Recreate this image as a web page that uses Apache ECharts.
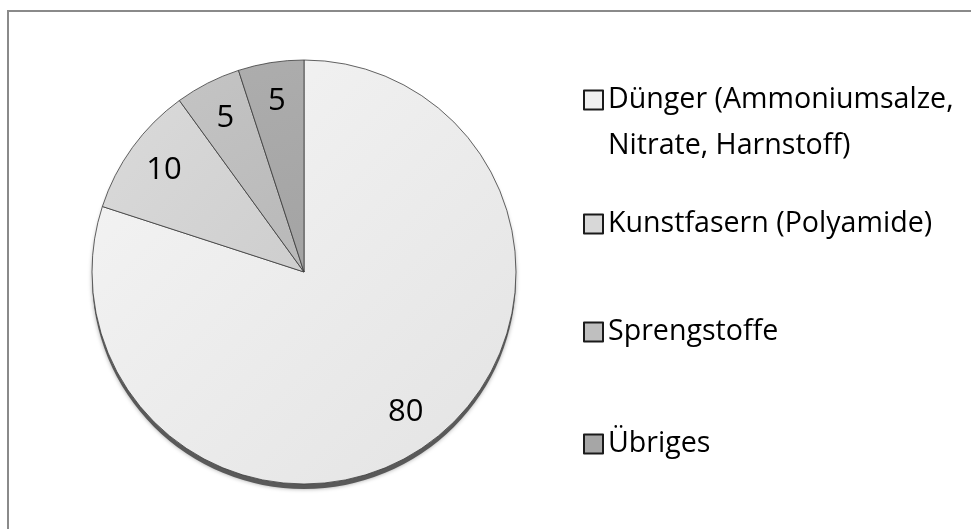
<!DOCTYPE html>
<html>
<head>
<meta charset="utf-8">
<script src="https://cdn.jsdelivr.net/npm/echarts@6/dist/echarts.min.js"></script>
<style>
    html, body { margin: 0; padding: 0; background: #fff; }
    #chart { width: 971px; height: 529px; }
</style>
</head>
<body>
<div id="chart"></div>
<script>
// Anteile am Ammoniakverbrauch (%)
const categories = ['Dünger (Ammoniumsalze, Nitrate, Harnstoff)', 'Kunstfasern (Polyamide)', 'Sprengstoffe', 'Übriges'];
// leading empty line keeps the legend square level with the first text line
const legendLabels = ['\nDünger (Ammoniumsalze,\nNitrate, Harnstoff)', 'Kunstfasern (Polyamide)', 'Sprengstoffe', 'Übriges'];
const values = [80, 10, 5, 5];
const sliceColors = [['#f5f5f5', '#e3e3e3'], ['#dadada', '#cecece'], ['#c4c4c4', '#b8b8b8'], ['#adadad', '#a3a3a3']];
const legendColors = ['#f0f0f0', '#d8d8d8', '#bfbfbf', '#a6a6a6'];

const chart = echarts.init(document.getElementById('chart'));

const FONT = '"Open Sans", sans-serif';
const pieCenter = [304, 272];
const pieRadius = 212;

function gradient (pair) {
    return new echarts.graphic.LinearGradient(0, 0, 1, 1, [
        { offset: 0, color: pair[0] },
        { offset: 1, color: pair[1] }
    ]);
}

const mainData = categories.map((name, i) => ({
    name: name,
    value: values[i],
    itemStyle: { color: gradient(sliceColors[i]) }
}));

// one legend per entry so every row can be placed like the original
const legendTops = [31, 204, 312, 424];
const legends = categories.map((name, i) => ({
    orient: 'vertical',
    left: 583,
    top: legendTops[i],
    padding: 0,
    icon: 'rect',
    itemWidth: 19,
    itemHeight: 19,
    selectedMode: false,
    data: [{ name: name, itemStyle: { color: legendColors[i], borderColor: '#1a1a1a', borderWidth: 2 } }],
    formatter: () => legendLabels[i],
    textStyle: {
        fontFamily: FONT,
        fontSize: 28.6,
        color: '#000',
        lineHeight: i === 0 ? 46 : 40
    }
}));

const option = {
    backgroundColor: '#fff',
    animation: false,
    graphic: [{
        type: 'rect',
        silent: true,
        shape: { x: 8, y: 11, width: 1200, height: 800 },
        style: { fill: 'none', stroke: '#8a8a8a', lineWidth: 2 }
    }],
    legend: legends,
    series: [
        {
            // shadow under the pie
            name: 'schatten',
            type: 'pie',
            silent: true,
            z: 1,
            center: [pieCenter[0], pieCenter[1] + 5],
            radius: pieRadius,
            startAngle: 90,
            label: { show: false },
            labelLine: { show: false },
            itemStyle: { color: '#595959', shadowBlur: 4, shadowColor: 'rgba(0,0,0,0.35)' },
            data: categories.map((name, i) => ({ name: name + ' ', value: values[i] }))
        },
        {
            name: 'anteil',
            type: 'pie',
            z: 2,
            silent: true,
            center: pieCenter,
            radius: pieRadius,
            startAngle: 90,
            label: { show: false },
            labelLine: { show: false },
            itemStyle: { borderColor: '#3c3c3c', borderWidth: 0.8 },
            data: mainData
        },
        {
            // transparent ring that carries the value labels
            name: 'werte',
            type: 'pie',
            z: 3,
            silent: true,
            center: pieCenter,
            radius: [128, pieRadius],
            startAngle: 90,
            itemStyle: { color: 'rgba(0,0,0,0)', borderWidth: 0 },
            label: {
                show: true,
                position: 'inside',
                formatter: '{c}',
                fontFamily: FONT,
                fontSize: 31,
                color: '#000'
            },
            labelLine: { show: false },
            data: categories.map((name, i) => ({ name: name + '  ', value: values[i] }))
        }
    ]
};

chart.setOption(option);
</script>
</body>
</html>
